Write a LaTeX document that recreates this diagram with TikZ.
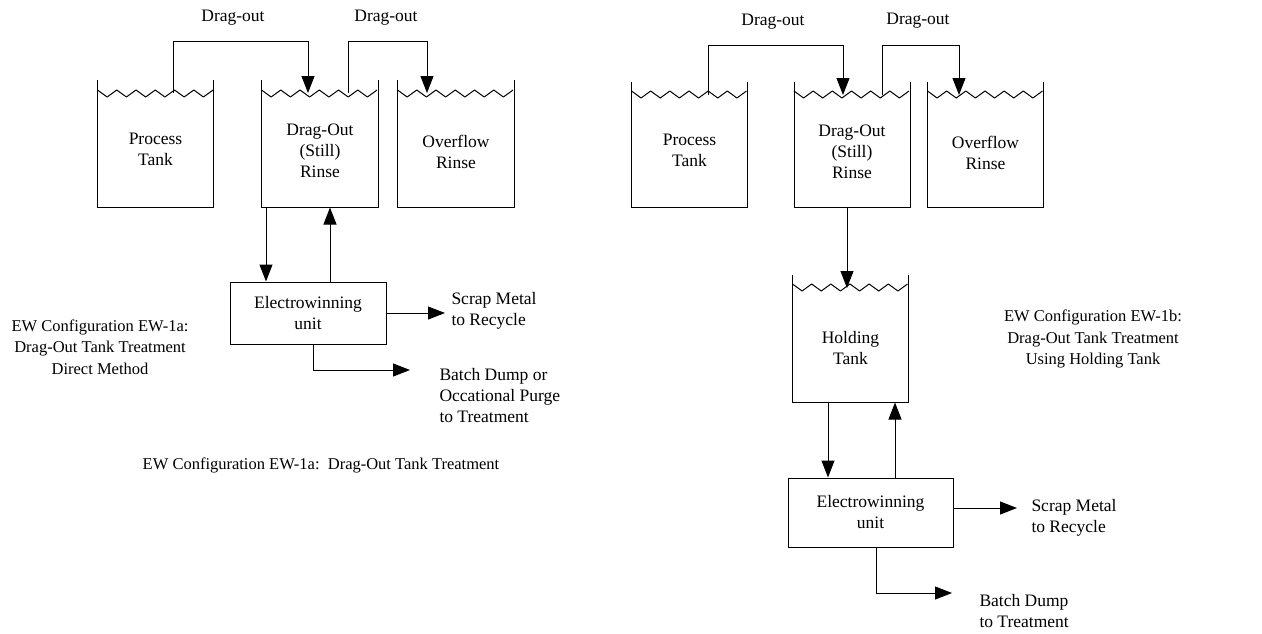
\documentclass[tikz,border=0pt]{standalone}
\usepackage{fontspec}
\setmainfont{Liberation Serif}
\usetikzlibrary{arrows.meta}
\begin{document}
\begin{tikzpicture}[x=1pt,y=-1pt,
  line width=1pt,
  tank/.style={inner sep=0pt,align=center,font=\fontsize{17.5}{21}\selectfont},
  unitbox/.style={draw,inner sep=0pt,align=center,font=\fontsize{17.5}{21}\selectfont},
  lbl/.style={align=left,font=\fontsize{17.5}{21}\selectfont,inner sep=0pt},
  captxt/.style={align=center,font=\fontsize{16.5}{21.5}\selectfont,inner sep=0pt},
  dragtxt/.style={align=center,font=\fontsize{17.5}{21}\selectfont,inner sep=0pt},
  flow/.style={-{Triangle[length=17pt,width=13pt]}},
  wave/.style={line join=round}]
\useasboundingbox (0,0) rectangle (1262,633);

% ---------- left diagram ----------
\node[tank,minimum width=115pt,minimum height=127pt] (pt1) at (155.5,143.5) {};
\node[tank] at (155.5,149) {Process\\Tank};
\node[tank,minimum width=116pt,minimum height=127pt] (do1) at (320,143.5) {};
\node[tank] at (320,151) {Drag-Out\\(Still)\\Rinse};
\node[tank,minimum width=116pt,minimum height=127pt] (of1) at (456,143.5) {};
\node[tank] at (456,152) {Overflow\\Rinse};
\foreach \t in {pt1,do1,of1}{
  \draw (\t.north west) -- (\t.south west) -- (\t.south east) -- (\t.north east);
  \draw[wave] ([yshift=-10.5pt]\t.north west)
    \foreach \k in {1,...,12}{ -- ++(9.63,{ifthenelse(isodd(\k),7,-7)}) };
}
\coordinate (s1a) at (173,93);
\coordinate (s1b) at (308,93);
\coordinate (s1c) at (348,93);
\coordinate (s1d) at (427,93);
\draw[flow] (s1a) -- (173,41) -| (s1b);
\draw[flow] (s1c) -- (348,41) -| (s1d);
\node[dragtxt] (dl1) at (233,18) {Drag-out};
\node[dragtxt] (dl2) at (386,18) {Drag-out};

\node[unitbox,minimum width=156pt,minimum height=62pt] (ew1) at (308,313) {Electrowinning\\unit};
\draw[flow] (do1.south west -| 266,0) -- (ew1.north -| 266,0);
\draw[flow] (ew1.north -| 330,0) -- (do1.south -| 330,0);
\node[lbl,anchor=west] (sc1) at (451,311) {Scrap Metal\\to Recycle};
\coordinate (sc1e) at (445,313);
\draw[flow] (ew1.east) -- (sc1e);
\node[lbl,anchor=west] (bd1) at (439,396) {Batch Dump or\\Occational Purge\\to Treatment};
\coordinate (bd1e) at (410,370);
\draw[flow] (ew1.south -| 313,0) |- (bd1e);
\node[captxt] (c1) at (100,347) {EW Configuration EW-1a:\\Drag-Out Tank Treatment\\Direct Method};
\node[captxt] (c2) at (321,465) {EW Configuration EW-1a:\ \ Drag-Out Tank Treatment};

% ---------- right diagram ----------
\node[tank,minimum width=115pt,minimum height=125pt] (pt2) at (689.5,144.5) {};
\node[tank] at (689.5,150) {Process\\Tank};
\node[tank,minimum width=115pt,minimum height=125pt] (do2) at (852,144.5) {};
\node[tank] at (852,152) {Drag-Out\\(Still)\\Rinse};
\node[tank,minimum width=115pt,minimum height=125pt] (of2) at (985.5,144.5) {};
\node[tank] at (985.5,153) {Overflow\\Rinse};
\node[tank,minimum width=115pt,minimum height=127pt] (ht2) at (850.5,338.5) {};
\node[tank] at (850.5,348) {Holding\\Tank};
\foreach \t in {pt2,do2,of2,ht2}{
  \draw (\t.north west) -- (\t.south west) -- (\t.south east) -- (\t.north east);
  \draw[wave] ([yshift=-9.5pt]\t.north west)
    \foreach \k in {1,...,12}{ -- ++(9.583,{ifthenelse(isodd(\k),7,-7)}) };
}
\coordinate (s2a) at (708,95);
\coordinate (s2b) at (843,95);
\coordinate (s2c) at (882,95);
\coordinate (s2d) at (959,95);
\draw[flow] (s2a) -- (708,45) -| (s2b);
\draw[flow] (s2c) -- (882,45) -| (s2d);
\node[dragtxt] (dl3) at (773,22) {Drag-out};
\node[dragtxt] (dl4) at (918,21) {Drag-out};
\coordinate (ht2s) at (847,288);
\draw[flow] (do2.south -| 847,0) -- (ht2s);

\node[unitbox,minimum width=165pt,minimum height=69pt] (ew2) at (870.5,512.5) {Electrowinning\\unit};
\draw[flow] (ht2.south -| 828,0) -- (ew2.north -| 828,0);
\draw[flow] (ew2.north -| 895,0) -- (ht2.south -| 895,0);
\node[lbl,anchor=west] (sc2) at (1031,518) {Scrap Metal\\to Recycle};
\coordinate (sc2e) at (1017,508);
\draw[flow] (ew2.east |- sc2e) -- (sc2e);
\node[lbl,anchor=west] (bd2) at (979,611) {Batch Dump\\to Treatment};
\coordinate (bd2e) at (952,593);
\draw[flow] (ew2.south -| 876,0) |- (bd2e);
\node[captxt] (c3) at (1093,339) {EW Configuration EW-1b:\\Drag-Out Tank Treatment\\Using Holding Tank};
\end{tikzpicture}
\end{document}
